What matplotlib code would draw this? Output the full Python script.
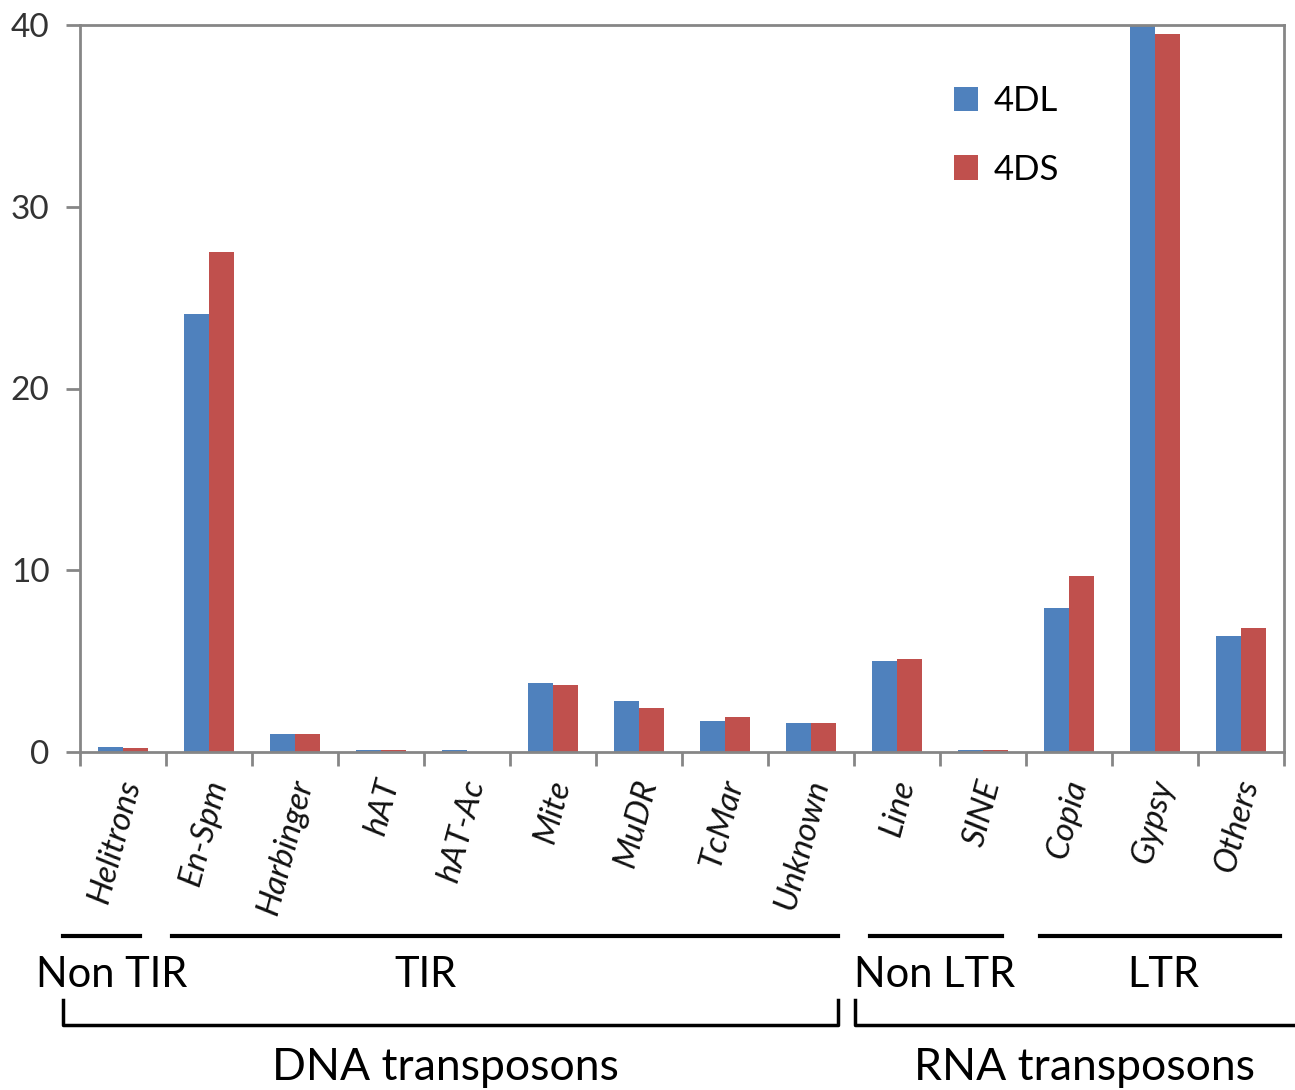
import numpy as np
import matplotlib
matplotlib.use("Agg")
from matplotlib import pyplot as plt
from matplotlib.lines import Line2D

# category names and values for the two chromosome arms
categories = ["Helitrons", "En-Spm", "Harbinger", "hAT", "hAT-Ac", "Mite", "MuDR",
              "TcMar", "Unknown", "Line", "SINE", "Copia", "Gypsy", "Others"]
vals_4DL = [0.3, 24.1, 1.0, 0.1, 0.1, 3.8, 2.8, 1.7, 1.6, 5.0, 0.1, 7.9, 40.3, 6.4]
vals_4DS = [0.2, 27.5, 1.0, 0.1, 0.0, 3.7, 2.4, 1.9, 1.6, 5.1, 0.1, 9.7, 39.5, 6.8]
series_names = ["4DL", "4DS"]
y_ticks = [0, 10, 20, 30, 40]

# grouping of the categories below the axis
sub_groups = ["Non TIR", "TIR", "Non LTR", "LTR"]
main_groups = ["DNA transposons", "RNA transposons"]

plt.rcParams["font.family"] = ["Lato", "DejaVu Sans"]
blue = "#4F81BD"
red = "#C0504D"
spine_col = "#868686"

W, H = 1295, 1090
fig = plt.figure(figsize=(W / 100, H / 100), dpi=100)
ax = fig.add_axes([80 / W, 1 - 752 / H, 1204 / W, 727 / H])

x = np.arange(len(categories))
bw = 0.29
ax.bar(x - bw / 2, vals_4DL, bw, color=blue, label=series_names[0])
ax.bar(x + bw / 2, vals_4DS, bw, color=red, label=series_names[1])

ax.set_xlim(-0.5, len(categories) - 0.5)
ax.set_ylim(0, 40)
ax.set_yticks(y_ticks)
ax.set_yticklabels([str(t) for t in y_ticks], fontsize=24, color="#333333")
ax.tick_params(axis="y", length=10, width=2, color=spine_col, pad=12)

# category boundaries carry the x ticks, names sit in between
ax.set_xticks(np.arange(-0.5, len(categories)), minor=False)
ax.set_xticklabels([])
ax.tick_params(axis="x", length=10, width=2, color=spine_col)
for i, name in enumerate(categories):
    ax.text(i + 0.1, -1.55, name, rotation=75, rotation_mode="anchor",
            ha="right", va="center", fontsize=24, style="italic", color="#111111")

for s in ax.spines.values():
    s.set_color(spine_col)
    s.set_linewidth(2)

leg = ax.legend(loc="upper left", bbox_to_anchor=(0.70, 0.96), frameon=False,
                fontsize=25, handlelength=0.7, handleheight=0.7,
                labelspacing=1.05, handletextpad=0.45)

# group lines and labels underneath, in figure pixels
def fx(px):
    return px / W

def fy(py):
    return 1 - py / H

sub_lines = [(63, 140), (172, 838), (870, 1002), (1040, 1280)]
sub_text_x = [112, 425, 935, 1163]
for (a, b), name, tx in zip(sub_lines, sub_groups, sub_text_x):
    fig.add_artist(Line2D([fx(a), fx(b)], [fy(936), fy(936)], color="black", lw=3))
    fig.text(fx(tx), fy(975), name, ha="center", va="center", fontsize=30)

brackets = [(63, 838), (855, 1300)]
main_text_x = [445, 1085]
for (a, b), name, tx in zip(brackets, main_groups, main_text_x):
    fig.add_artist(Line2D([fx(a), fx(a), fx(b), fx(b)],
                          [fy(1000), fy(1025), fy(1025), fy(1000)],
                          color="black", lw=2.5))
    fig.text(fx(tx), fy(1067), name, ha="center", va="center", fontsize=32)

fig.savefig("out.png", dpi=100)
